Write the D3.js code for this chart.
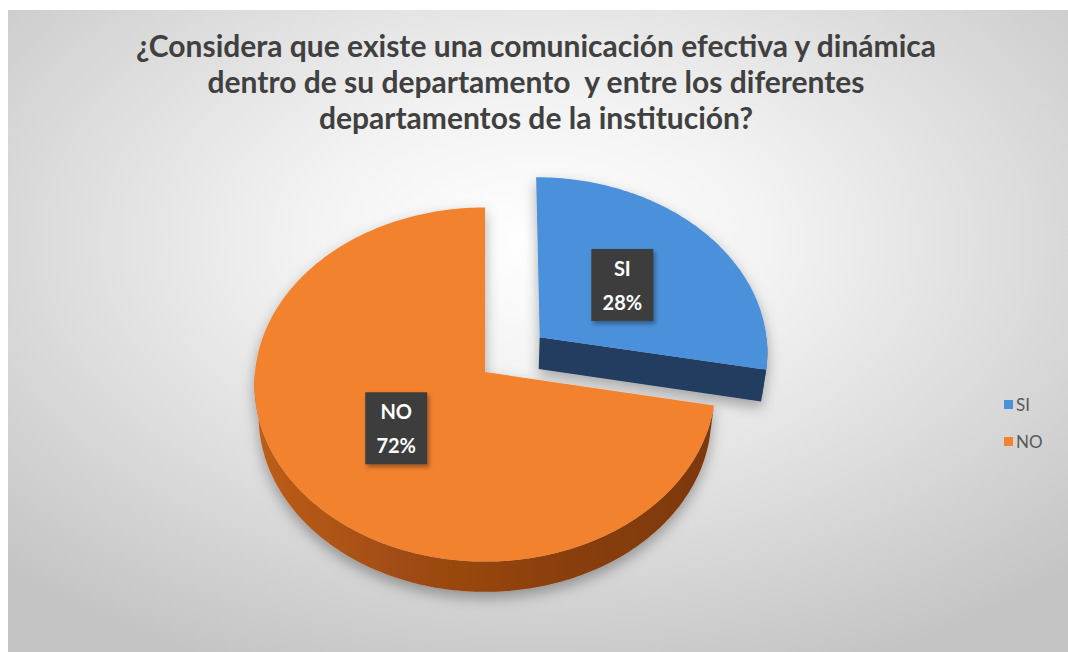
<!DOCTYPE html>
<html>
<head>
<meta charset="utf-8">
<script src="https://cdn.jsdelivr.net/npm/d3@7"></script>
<style>
  html, body { margin: 0; padding: 0; background: #ffffff; }
  svg { display: block; }
</style>
</head>
<body>
<svg id="chart" width="1068" height="652"></svg>
<script>
// ---- data ----
const categories = ["SI", "NO"];
const values = [28, 72];
const titleLines = [
  "¿Considera que existe una comunicación efectiva y dinámica",
  "dentro de su departamento  y entre los diferentes",
  "departamentos de la institución?"
];

// ---- styles ----
const topColor = { SI: "#4b90da", NO: "#f3822f" };
const sideStops = {
  SI: ["#2c4d74", "#243f60", "#1f3857"],
  NO: ["#bd5e1a", "#a04b12", "#8a3f0e", "#7d380d"]
};
const cutColor = { SI: "#223e5f", NO: "#8a3f0e" };
const explodeBy = { SI: 72, NO: 0 };

const W = 1068, H = 652;
const svg = d3.select("#chart");
const defs = svg.append("defs");

// background: radial light-grey gradient
const bg = defs.append("radialGradient").attr("id", "bg")
  .attr("cx", 0.5).attr("cy", 0.36).attr("r", 0.72);
bg.append("stop").attr("offset", 0).attr("stop-color", "#ffffff");
bg.append("stop").attr("offset", 0.3).attr("stop-color", "#f3f3f3");
bg.append("stop").attr("offset", 1).attr("stop-color", "#c4c4c4");
svg.append("rect").attr("x", 8).attr("y", 10)
  .attr("width", W - 8).attr("height", H - 10).attr("fill", "url(#bg)");

// soft shadows
const sh = defs.append("filter").attr("id", "pieShadow")
  .attr("x", "-20%").attr("y", "-20%").attr("width", "140%").attr("height", "150%");
sh.append("feDropShadow").attr("dx", 0).attr("dy", 6).attr("stdDeviation", 7)
  .attr("flood-color", "#000").attr("flood-opacity", 0.32);
const lsh = defs.append("filter").attr("id", "labelShadow")
  .attr("x", "-30%").attr("y", "-30%").attr("width", "160%").attr("height", "160%");
lsh.append("feDropShadow").attr("dx", 2).attr("dy", 3).attr("stdDeviation", 2)
  .attr("flood-color", "#000").attr("flood-opacity", 0.35);

// ---- title ----
const title = svg.append("text")
  .attr("text-anchor", "middle")
  .attr("font-family", "Lato, 'Open Sans', sans-serif")
  .attr("font-weight", 700)
  .attr("font-size", 30)
  .attr("fill", "#404040")
  .style("white-space", "pre");
titleLines.forEach((t, i) => {
  title.append("tspan").attr("x", 536).attr("y", 57 + i * 36).text(t);
});

// ---- 3D pie projection ----
const cx = 485, cy = 372, R = 230, tilt = 50 * Math.PI / 180, D = 2090, depth = 50;
function project(X, Y, Z) {
  const yc = Y * Math.cos(tilt) + Z * Math.sin(tilt);
  const zc = -Y * Math.sin(tilt) + Z * Math.cos(tilt);
  const s = D / (D + zc);
  return [cx + X * s, cy - yc * s];
}

const pie = d3.pie().sort(null).value(d => d.value);
const slices = pie(categories.map((c, i) => ({ cat: c, value: values[i] })));
slices.forEach(d => {
  const mid = (d.startAngle + d.endAngle) / 2;
  const e = explodeBy[d.data.cat];
  d.ox = e * Math.sin(mid);
  d.oz = e * Math.cos(mid);
  d.mid = mid;
});

const line = d3.line();
function rim(d, a0, a1, Y, r = R) {
  const n = Math.max(2, Math.ceil(Math.abs(a1 - a0) / (Math.PI / 180)));
  return d3.range(n + 1).map(k => {
    const a = a0 + (a1 - a0) * k / n;
    return project(d.ox + r * Math.sin(a), Y, d.oz + r * Math.cos(a));
  });
}

const pieG = svg.append("g").attr("filter", "url(#pieShadow)");

// draw back slices first (the exploded SI sits behind)
const order = slices.slice().sort((a, b) => b.oz - a.oz);
order.forEach(d => {
  const cat = d.data.cat;
  const g = pieG.append("g");

  // outer curved wall, only the front-facing part
  const a0 = Math.max(d.startAngle, Math.PI / 2);
  const a1 = Math.min(d.endAngle, 3 * Math.PI / 2);
  if (a1 > a0) {
    const upper = rim(d, a0, a1, 0);
    const lower = rim(d, a1, a0, -depth);
    const xs = upper.map(p => p[0]);
    const gid = "side-" + cat;
    const lg = defs.append("linearGradient").attr("id", gid)
      .attr("gradientUnits", "userSpaceOnUse")
      .attr("x1", d3.min(xs)).attr("x2", d3.max(xs)).attr("y1", 0).attr("y2", 0);
    const st = sideStops[cat];
    st.forEach((c, i) => lg.append("stop").attr("offset", i / (st.length - 1)).attr("stop-color", c));
    g.append("path").attr("d", line(upper.concat(lower)) + "Z").attr("fill", `url(#${gid})`);
  }

  // flat cut faces that face the viewer
  [[d.endAngle, Math.sin(d.endAngle) > 0.05], [d.startAngle, Math.sin(d.startAngle) < -0.05]]
    .forEach(([a, visible]) => {
      if (!visible) return;
      const pts = [
        project(d.ox, 0, d.oz),
        project(d.ox + R * Math.sin(a), 0, d.oz + R * Math.cos(a)),
        project(d.ox + R * Math.sin(a), -depth, d.oz + R * Math.cos(a)),
        project(d.ox, -depth, d.oz)
      ];
      g.append("path").attr("d", line(pts) + "Z").attr("fill", cutColor[cat]);
    });

  // top face
  const topPts = [project(d.ox, 0, d.oz)].concat(rim(d, d.startAngle, d.endAngle, 0));
  g.append("path").attr("d", line(topPts) + "Z").attr("fill", topColor[cat]);
});

// ---- data labels ----
const labelG = svg.append("g")
  .attr("font-family", "Lato, 'Open Sans', sans-serif")
  .attr("font-weight", 700)
  .attr("font-size", 20)
  .attr("fill", "#ffffff")
  .attr("text-anchor", "middle");
slices.forEach(d => {
  const r = 0.49 * R;
  const [lx, ly] = project(d.ox + r * Math.sin(d.mid), 0, d.oz + r * Math.cos(d.mid));
  const total = d3.sum(values);
  const pct = Math.round(d.data.value / total * 100) + "%";
  const g = labelG.append("g").attr("transform", `translate(${lx},${ly})`);
  g.append("rect").attr("x", -31).attr("y", -36).attr("width", 62).attr("height", 72)
    .attr("fill", "#3e3e3e").attr("filter", "url(#labelShadow)");
  g.append("text").attr("y", -9).text(d.data.cat);
  g.append("text").attr("y", 25).text(pct);
});

// ---- legend ----
const legend = svg.append("g")
  .attr("font-family", "Lato, 'Open Sans', sans-serif")
  .attr("font-size", 17)
  .attr("fill", "#595959");
categories.forEach((c, i) => {
  const y = 405 + i * 37;
  legend.append("rect").attr("x", 1004).attr("y", y - 5).attr("width", 9).attr("height", 9)
    .attr("fill", topColor[c]);
  legend.append("text").attr("x", 1016).attr("y", y + 6).text(c);
});
</script>
</body>
</html>
